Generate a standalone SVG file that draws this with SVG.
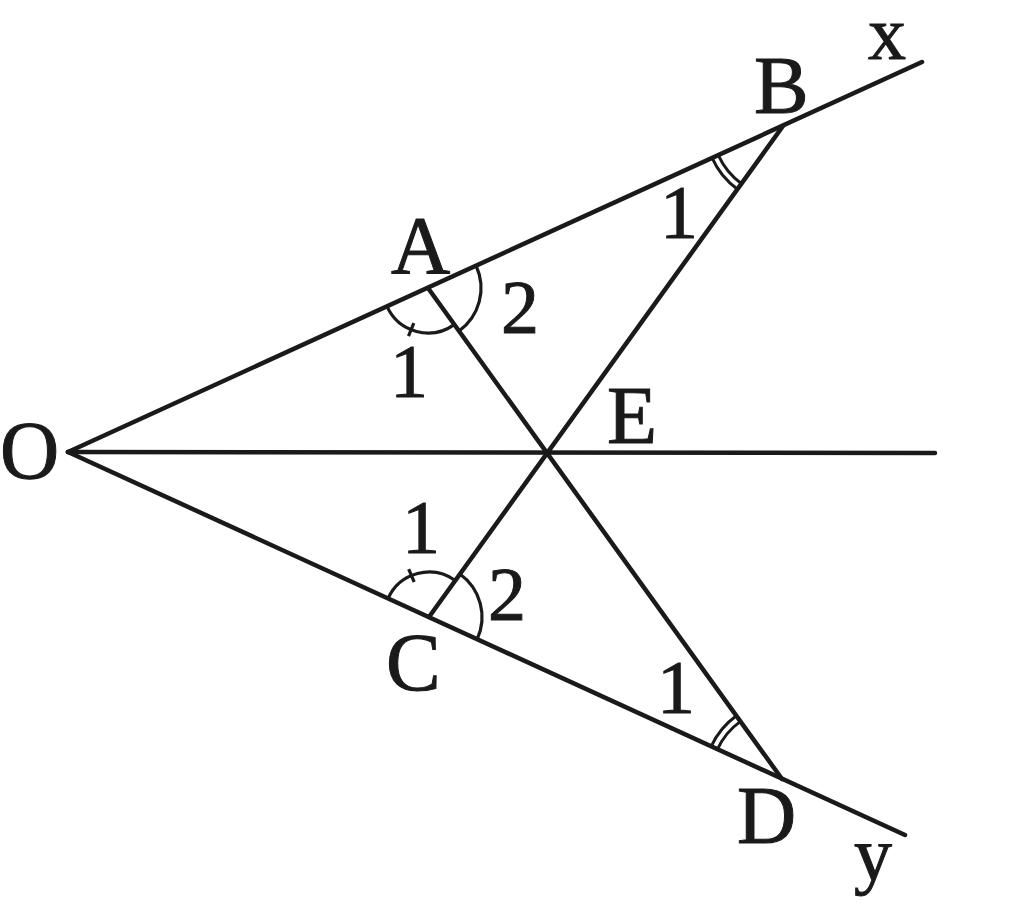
<svg xmlns="http://www.w3.org/2000/svg" width="1024" height="918" viewBox="0 0 1024 918">
<style>
.ln{stroke:#1a1a1a;stroke-width:4.5;fill:none;stroke-linecap:round}
.arc{stroke:#1a1a1a;stroke-width:3.2;fill:none}
.arc2{stroke:#1a1a1a;stroke-width:3;fill:none}
.lb{font-family:"Liberation Serif","DejaVu Serif",serif;font-size:82px;fill:#1a1a1a;stroke:#1a1a1a;stroke-width:1}
.lc{font-family:"Liberation Serif","DejaVu Serif",serif;font-size:76px;fill:#1a1a1a;stroke:#1a1a1a;stroke-width:1}
</style>
<rect width="1024" height="918" fill="#ffffff"/>
<g id="connectors">
<line class="ln" x1="68" y1="452" x2="922" y2="62"/>
<line class="ln" x1="68" y1="452" x2="905" y2="835"/>
<line class="ln" x1="68" y1="452" x2="935" y2="453"/>
<line class="ln" x1="428" y1="288" x2="782" y2="779"/>
<line class="ln" x1="429" y1="617" x2="783" y2="126"/>
</g>
<g id="angles">
<path class="arc" d="M454.2 324.6 A45 45 0 0 1 387.1 306.7"/>
<line class="arc" x1="413.8" y1="323.2" x2="408.5" y2="336.2"/>
<path class="arc" d="M476.2 266 A53 53 0 0 1 458.9 331.1"/>
<path class="arc" d="M388.1 598.3 A45 45 0 0 1 455.3 580.5"/>
<line class="arc" x1="414.2" y1="582" x2="408.7" y2="569.1"/>
<path class="arc" d="M459.9 574 A53 53 0 0 1 477.2 639.1"/>
<path class="arc2" d="M718.4 155.4 A71 71 0 0 0 741.6 183.7"/>
<path class="arc2" d="M712.2 158.2 A78 78 0 0 0 737.5 189.3"/>
<path class="arc2" d="M717.4 749.4 A71 71 0 0 1 740.5 721.4"/>
<path class="arc2" d="M711.1 746.5 A78 78 0 0 1 736.4 715.7"/>
</g>
<g id="node-O"><text class="lb" x="0" y="478">O</text></g>
<g id="node-A"><text class="lb" x="391" y="273">A</text></g>
<g id="node-B"><text class="lb" x="754" y="113">B</text></g>
<g id="node-C"><text class="lb" x="386" y="690">C</text></g>
<g id="node-D"><text class="lb" x="737" y="843">D</text></g>
<g id="node-E"><text class="lb" x="607" y="443">E</text></g>
<g id="node-x"><text class="lc" x="868" y="59">x</text></g>
<g id="node-y"><text class="lc" x="854" y="880">y</text></g>
<g id="labels">
<text class="lc" x="390" y="397">1</text>
<text class="lc" x="501" y="333">2</text>
<text class="lc" x="402" y="553">1</text>
<text class="lc" x="488" y="620">2</text>
<text class="lc" x="660" y="238">1</text>
<text class="lc" x="657" y="713">1</text>
</g>
</svg>
